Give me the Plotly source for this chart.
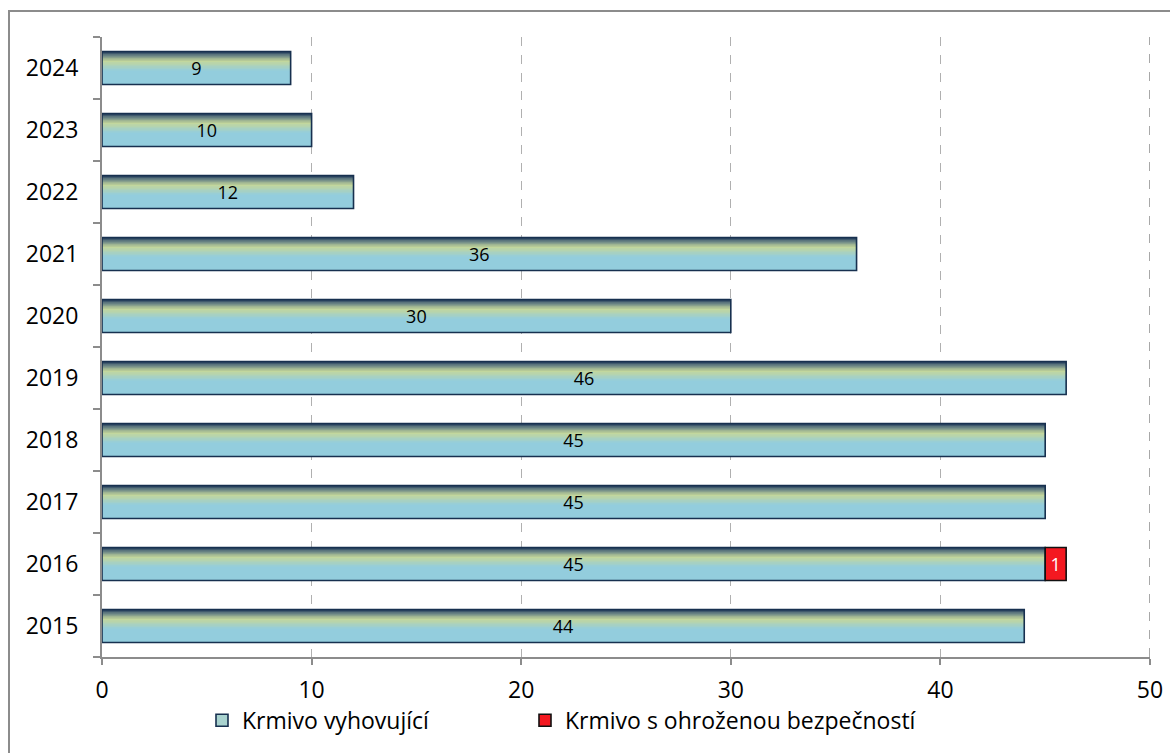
import plotly.graph_objects as go

years = ["2015", "2016", "2017", "2018", "2019", "2020", "2021", "2022", "2023", "2024"]
vyhovujici = [44, 45, 45, 45, 46, 30, 36, 12, 10, 9]
ohrozena = [0, 1, 0, 0, 0, 0, 0, 0, 0, 0]
x_ticks = [0, 10, 20, 30, 40, 50]

FONT = "Open Sans"
BAR_W = 0.53
N_BANDS = 24
stops = [(0.0, (0x1a, 0x33, 0x55)), (0.13, (0x6a, 0x84, 0x86)), (0.30, (0xc4, 0xd7, 0x9b)),
         (0.60, (0x93, 0xcd, 0xdd)), (1.0, (0x93, 0xcd, 0xdd))]


def grad(t):
    for (t0, c0), (t1, c1) in zip(stops[:-1], stops[1:]):
        if t0 <= t <= t1:
            f = (t - t0) / (t1 - t0) if t1 > t0 else 0
            c = [round(a + (b - a) * f) for a, b in zip(c0, c1)]
            return "rgb(%d,%d,%d)" % tuple(c)
    return "rgb(147,205,221)"


fig = go.Figure()

# gradient bands
bw = BAR_W / N_BANDS
for i in range(N_BANDS):
    t = (i + 0.5) / N_BANDS
    fig.add_trace(go.Bar(
        y=years, x=vyhovujici, orientation="h",
        width=bw * 1.15, offset=BAR_W / 2 - (i + 1) * bw,
        marker=dict(color=grad(t), line=dict(width=0)),
        showlegend=False, hoverinfo="skip"))

# outline + labels
fig.add_trace(go.Bar(
    y=years, x=vyhovujici, orientation="h",
    width=BAR_W, offset=-BAR_W / 2,
    marker=dict(color="rgba(0,0,0,0)", line=dict(color="#17304f", width=1.6)),
    text=[str(v) for v in vyhovujici], textposition="inside", insidetextanchor="middle",
    textfont=dict(family=FONT, size=18, color="black"),
    showlegend=False, hoverinfo="skip"))

# legend proxy for the gradient series
fig.add_trace(go.Bar(
    y=[None], x=[None], orientation="h", name="Krmivo vyhovující",
    marker=dict(color="#a9d3cf", line=dict(color="#17304f", width=1.6)),
    legend="legend"))

# red segment
ry = [y for y, v in zip(years, ohrozena) if v > 0]
rx = [v for v in ohrozena if v > 0]
rb = [b for b, v in zip(vyhovujici, ohrozena) if v > 0]
fig.add_trace(go.Bar(
    y=ry, x=rx, base=rb, orientation="h", name="Krmivo s ohroženou bezpečností",
    width=BAR_W, offset=-BAR_W / 2,
    marker=dict(color="#f41820", line=dict(color="#111111", width=1.6)),
    text=[str(v) for v in rx], textposition="inside", insidetextanchor="middle",
    textfont=dict(family=FONT, size=18, color="white"),
    legend="legend2"))

legend_common = dict(orientation="h", xanchor="left", y=-0.102, yanchor="middle",
                     font=dict(family=FONT, size=23, color="black"),
                     itemwidth=30, bgcolor="rgba(0,0,0,0)")

fig.update_layout(
    width=1170, height=753,
    margin=dict(l=102, r=20, t=37, b=96, autoexpand=False),
    paper_bgcolor="white", plot_bgcolor="white",
    barmode="overlay",
    font=dict(family=FONT, color="black"),
    xaxis=dict(range=[0, x_ticks[-1]], tickvals=x_ticks, showgrid=True, gridcolor="#b0b0b0",
               griddash="dash", gridwidth=1, showline=True, linecolor="#8c8c8c", linewidth=2,
               ticks="outside", ticklen=6, tickcolor="#8c8c8c", tickwidth=2,
               ticklabelstandoff=5,
               tickfont=dict(family=FONT, size=23, color="black"), zeroline=False,
               automargin=False, fixedrange=True),
    yaxis=dict(type="category", categoryorder="array", categoryarray=years,
               showline=True, linecolor="#8c8c8c", linewidth=2, showgrid=False,
               ticks="outside", tickson="boundaries", ticklen=7, tickcolor="#8c8c8c", tickwidth=2,
               ticklabelstandoff=17, automargin=False,
               tickfont=dict(family=FONT, size=23, color="black"), fixedrange=True),
    legend=dict(x=(202 - 102) / 1048, **legend_common),
    legend2=dict(x=(525 - 102) / 1048, **legend_common),
    shapes=[dict(type="rect", xref="paper", yref="paper",
                 x0=(9 - 102) / 1048, x1=1.2, y0=-0.4, y1=(657 - 11) / 620,
                 line=dict(color="#8c8c8c", width=2), fillcolor="rgba(0,0,0,0)", layer="below"),
            dict(type="line", xref="x", yref="paper", x0=x_ticks[-1], x1=x_ticks[-1], y0=0, y1=1,
                 line=dict(color="#a8a8a8", width=2, dash="dash"), layer="above")],
    showlegend=True,
)

fig.write_html("out.html", config={"displayModeBar": False})
